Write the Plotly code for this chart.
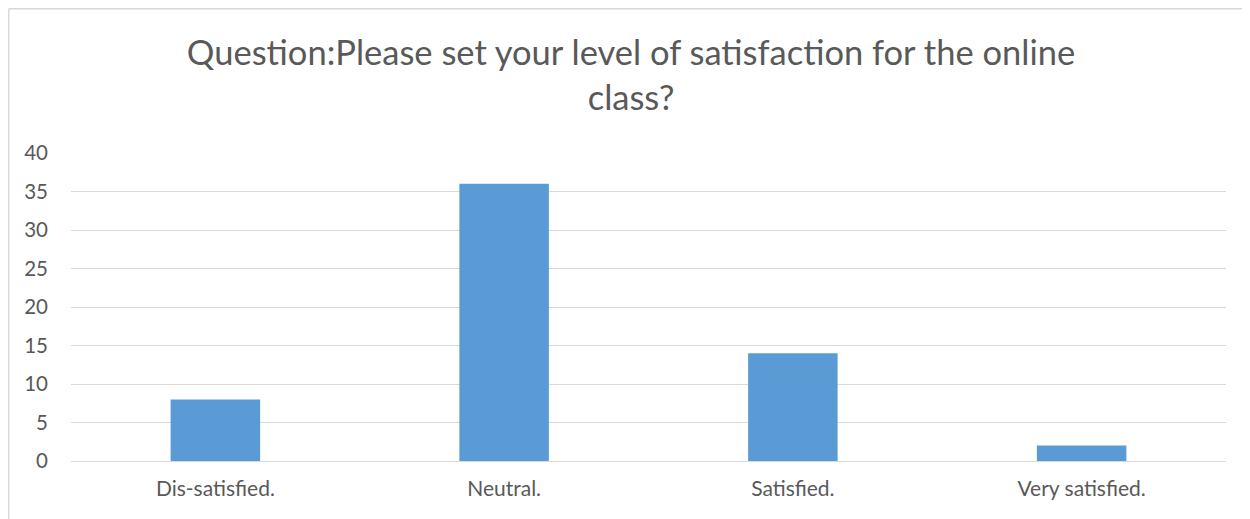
import plotly.graph_objects as go

categories = ["Dis-satisfied.", "Neutral.", "Satisfied.", "Very satisfied."]
values = [8, 36, 14, 2]
y_ticks = [0, 5, 10, 15, 20, 25, 30, 35, 40]
title_text = "Question:Please set your level of satisfaction for the online<br>class?"

# page body has an 8px offset; figure sized so it fits the 1250x519 window without scrollbars
W, H = 1242, 511
ml, mr, mt, mb = 63, 24, 145, 58
pw, ph = W - ml - mr, H - mt - mb

fig = go.Figure(go.Bar(x=categories, y=values, marker=dict(color="#5B9BD5", line=dict(width=0)), width=0.31))

border = dict(color="#D9D9D9", width=1.5)
fig.update_layout(
    width=W, height=H,
    margin=dict(l=ml, r=mr, t=mt, b=mb),
    paper_bgcolor="white", plot_bgcolor="white",
    font=dict(family="Lato, Open Sans, sans-serif", color="#595959", size=21),
    title=dict(text=title_text, x=(631 - 8) / W, xref="container", xanchor="center",
               y=1 - 57 / H, yref="container", yanchor="middle",
               font=dict(size=34.5, color="#595959")),
    showlegend=False,
    xaxis=dict(showgrid=False, showline=False, ticks="", tickfont=dict(size=21), ticklabelstandoff=13),
    yaxis=dict(range=[0, 40], tickvals=y_ticks, showgrid=True, gridcolor="#D9D9D9", gridwidth=1.2,
               zeroline=True, zerolinecolor="#D9D9D9", zerolinewidth=1.2, ticks="",
               ticklabelstandoff=22, tickfont=dict(size=20.5)),
    shapes=[
        dict(type="line", xref="paper", yref="paper",
             x0=-(ml - 0.75) / pw, x1=1 + mr / pw, y0=1 + (mt - 0.75) / ph, y1=1 + (mt - 0.75) / ph, line=border),
        dict(type="line", xref="paper", yref="paper",
             x0=-(ml - 0.75) / pw, x1=-(ml - 0.75) / pw, y0=-mb / ph, y1=1 + (mt - 0.75) / ph, line=border),
    ],
)

fig.write_html("out.html")
